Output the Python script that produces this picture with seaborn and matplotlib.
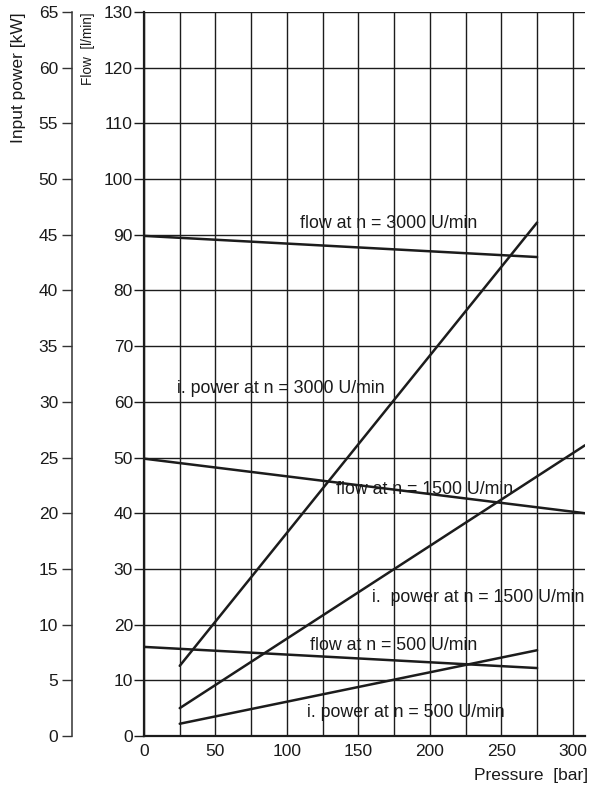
import numpy as np
import pandas as pd
import matplotlib
matplotlib.use("Agg")
import matplotlib.pyplot as plt
import seaborn as sns

sns.set_style("white")
plt.rcParams['font.family'] = ['Liberation Sans', 'DejaVu Sans']

# ============================================
# Data
# ============================================
# flow curves [l/min] over pressure [bar]
flow_3000_p = [0, 275]
flow_3000_q = [89.8, 86.0]
flow_1500_p = [0, 308.5]
flow_1500_q = [49.8, 40.0]
flow_500_p = [0, 275]
flow_500_q = [16.0, 12.2]

# input power curves [kW] over pressure [bar]
power_3000_p = [25, 275]
power_3000_kw = [6.3, 46.1]
power_1500_p = [25, 308.5]
power_1500_kw = [2.5, 26.1]
power_500_p = [25, 275]
power_500_kw = [1.1, 7.7]

pressure_ticks = [0, 50, 100, 150, 200, 250, 300]
flow_ticks = list(range(0, 131, 10))
power_ticks = list(range(0, 66, 5))

line_col = '#1c1c1c'

fig = plt.figure(figsize=(5.89, 7.86), dpi=100)
ax = fig.add_axes([144/589, 50/786, 441/589, 724/786])
ax.set_xlim(0, 308.5)
ax.set_ylim(0, 130)

# grid
ax.set_xticks(np.arange(25, 301, 25), minor=True)
ax.set_yticks(flow_ticks)
ax.set_xticks(pressure_ticks)
ax.grid(True, which='both', axis='x', color=line_col, lw=1.0)
ax.grid(True, which='major', axis='y', color=line_col, lw=1.0)
ax.set_axisbelow(True)

for s in ['top', 'right']:
    ax.spines[s].set_visible(False)
ax.spines['left'].set_linewidth(1.6)
ax.spines['bottom'].set_linewidth(1.6)
ax.spines['left'].set_color(line_col)
ax.spines['bottom'].set_color(line_col)

ax.tick_params(axis='y', which='major', direction='out', length=7, width=1.0,
               pad=1, labelsize=12.5, color=line_col, labelcolor='#1a1a1a')
ax.tick_params(axis='x', which='both', length=0, pad=6, labelsize=12.5,
               labelcolor='#1a1a1a')

# flow lines
for p, q in [(flow_3000_p, flow_3000_q), (flow_1500_p, flow_1500_q), (flow_500_p, flow_500_q)]:
    sns.lineplot(x=p, y=q, ax=ax, color=line_col, lw=1.8)

# power axis on the far left
ax2 = ax.twinx()
ax2.set_ylim(0, 65)
ax2.set_yticks(power_ticks)
for s in ['top', 'right', 'bottom']:
    ax2.spines[s].set_visible(False)
ax2.spines['left'].set_visible(True)
ax2.spines['left'].set_position(('axes', -72/441))
ax2.spines['left'].set_linewidth(1.1)
ax2.spines['left'].set_color('#333333')
ax2.yaxis.set_ticks_position('left')
ax2.yaxis.set_label_position('left')
ax2.tick_params(axis='y', direction='out', length=7, width=1.0, pad=3,
                labelsize=12.5, color='#333333', labelcolor='#1a1a1a')
ax2.grid(False)

for p, kw in [(power_3000_p, power_3000_kw), (power_1500_p, power_1500_kw), (power_500_p, power_500_kw)]:
    sns.lineplot(x=p, y=kw, ax=ax2, color=line_col, lw=1.8)
ax2.set_xlim(0, 308.5)

# curve labels
labels = [
    ('flow at n = 3000 U/min', 109.2, 91.2),
    ('i. power at n = 3000 U/min', 22.9, 61.6),
    ('flow at n = 1500 U/min', 134.5, 43.5),
    ('i.  power at n = 1500 U/min', 159.7, 24.1),
    ('flow at n = 500 U/min', 116.2, 15.4),
    ('i. power at n = 500 U/min', 114.1, 3.4),
]
for txt, x, y in labels:
    ax.text(x, y, txt, fontsize=12.8, ha='left', va='baseline',
            color='#1a1a1a', zorder=5)

# axis titles
fig.text(19/589, 1 - 12/786, 'Input power [kW]', rotation=90, ha='center',
         va='top', fontsize=12.5, color='#1a1a1a')
fig.text(88/589, 1 - 12/786, 'Flow  [l/min]', rotation=90, ha='center',
         va='top', fontsize=9.8, color='#1a1a1a')
fig.text(588/589, 1 - 780/786, 'Pressure  [bar]', ha='right', va='baseline',
         fontsize=12.5, color='#1a1a1a')

plt.savefig('out.png', dpi=100)
